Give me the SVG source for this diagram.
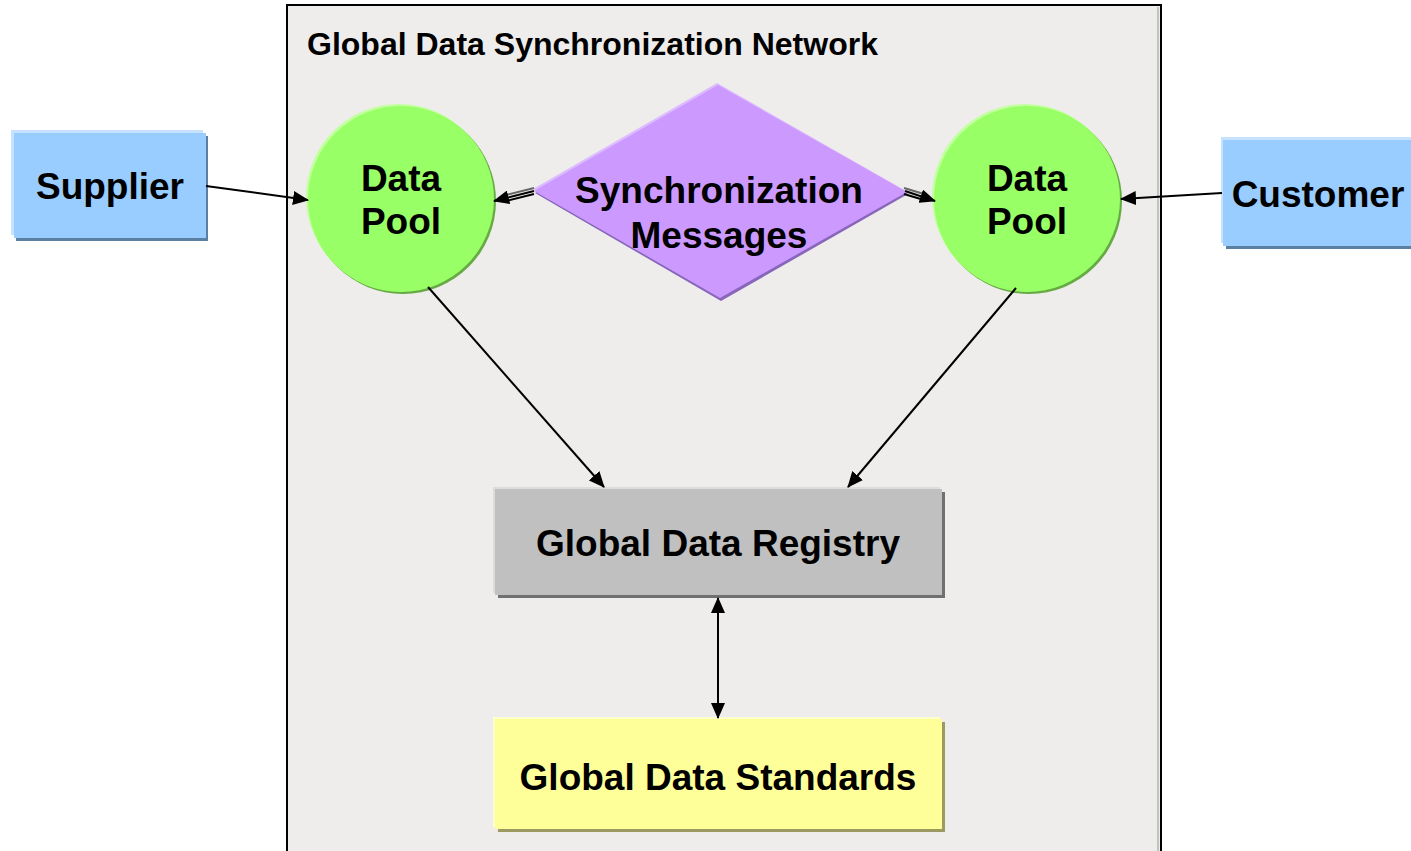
<svg xmlns="http://www.w3.org/2000/svg" width="1411" height="851" viewBox="0 0 1411 851">
<style>
.lbl{font-family:"Liberation Sans",Arial,sans-serif;font-weight:bold;font-size:37px;fill:#000;text-anchor:middle}
.title{font-family:"Liberation Sans",Arial,sans-serif;font-weight:bold;font-size:31px;fill:#000}
.conn{stroke:#000;stroke-width:2;fill:none}
</style>
<defs>
<marker id="ah" viewBox="0 0 16 14" refX="15" refY="7" markerWidth="16" markerHeight="14" markerUnits="userSpaceOnUse" orient="auto-start-reverse">
<path d="M0,0 L16,7 L0,14 z" fill="#000"/>
</marker>
</defs>
<rect x="0" y="0" width="1411" height="851" fill="#fff"/>
<g id="network">
<rect x="287" y="5" width="874" height="860" fill="#eeedeb" stroke="#000" stroke-width="2"/>
<line x1="1158" y1="7" x2="1158" y2="851" stroke="#999" stroke-width="1"/>
<text class="title" x="307" y="55" textLength="571" lengthAdjust="spacingAndGlyphs">Global Data Synchronization Network</text>
</g>
<g id="supplier">
<rect x="11" y="130" width="192" height="105" fill="#c6e2ff"/>
<rect x="16" y="136" width="192" height="105" fill="#5b7fa3"/>
<rect x="14" y="133" width="192" height="105" fill="#99ccff"/>
<text class="lbl" x="110" y="199">Supplier</text>
</g>
<g id="customer">
<rect x="1221" y="137" width="200" height="106" fill="#c6e2ff"/>
<rect x="1226" y="143" width="200" height="106" fill="#5b7fa3"/>
<rect x="1223" y="140" width="200" height="106" fill="#99ccff"/>
<text class="lbl" x="1318" y="207">Customer</text>
</g>
<g id="pool-left">
<circle cx="399" cy="197" r="93" fill="#c2ff9e"/>
<circle cx="403" cy="201" r="93" fill="#66aa44"/>
<circle cx="401" cy="199" r="93" fill="#99ff66"/>
<text class="lbl" x="401" y="191">Data</text>
<text class="lbl" x="401" y="234">Pool</text>
</g>
<g id="pool-right">
<circle cx="1025" cy="197" r="93" fill="#c2ff9e"/>
<circle cx="1029" cy="201" r="93" fill="#66aa44"/>
<circle cx="1027" cy="199" r="93" fill="#99ff66"/>
<text class="lbl" x="1027" y="191">Data</text>
<text class="lbl" x="1027" y="234">Pool</text>
</g>
<g id="sync-messages">
<polygon points="717,83 533,189 719,296 906,191" fill="#ddbbff"/>
<polygon points="718,87 535,193 721,301 908,194" fill="#8866bb"/>
<polygon points="718,85 534,191 720,298 907,192" fill="#cc99ff"/>
<text class="lbl" x="719" y="203">Synchronization</text>
<text class="lbl" x="719" y="248">Messages</text>
</g>
<g id="registry">
<rect x="493" y="487" width="447" height="106" fill="#dcdcdc"/>
<rect x="498" y="492" width="447" height="106" fill="#707070"/>
<rect x="495" y="489" width="447" height="106" fill="#c0c0c0"/>
<text class="lbl" x="718" y="556">Global Data Registry</text>
</g>
<g id="standards">
<rect x="493" y="717" width="447" height="110" fill="#ffffcc"/>
<rect x="498" y="722" width="447" height="110" fill="#9c9a60"/>
<rect x="495" y="719" width="447" height="110" fill="#ffff99"/>
<text class="lbl" x="718" y="790">Global Data Standards</text>
</g>
<g id="connectors">
<line class="conn" x1="206" y1="186" x2="308" y2="200" marker-end="url(#ah)"/>
<line class="conn" x1="1222" y1="193" x2="1121" y2="199" marker-end="url(#ah)"/>
<line class="conn" x1="428" y1="287" x2="604" y2="487" marker-end="url(#ah)"/>
<line class="conn" x1="1016" y1="288" x2="848" y2="487" marker-end="url(#ah)"/>
<line class="conn" x1="718" y1="598" x2="718" y2="718" marker-start="url(#ah)" marker-end="url(#ah)"/>
<line x1="534" y1="188" x2="506" y2="195" stroke="#666" stroke-width="2"/>
<line x1="534" y1="194" x2="506" y2="201" stroke="#000" stroke-width="2"/>
<line class="conn" x1="534" y1="191" x2="494" y2="201" marker-end="url(#ah)"/>
<line x1="904" y1="188" x2="924" y2="194" stroke="#666" stroke-width="2"/>
<line x1="904" y1="194" x2="924" y2="200" stroke="#000" stroke-width="2"/>
<line class="conn" x1="905" y1="191" x2="935" y2="201" marker-end="url(#ah)"/>
</g>
</svg>
